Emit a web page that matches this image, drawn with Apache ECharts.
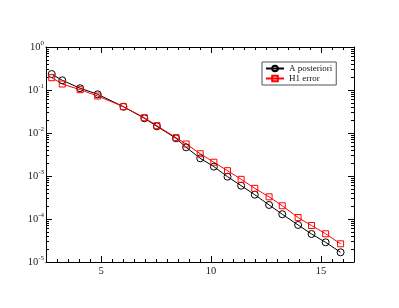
<!DOCTYPE html>
<html>
<head>
<meta charset="utf-8">
<script src="https://cdn.jsdelivr.net/npm/echarts@6/dist/echarts.min.js"></script>
<style>
  html, body { margin: 0; padding: 0; background: #fff; }
  #main { width: 399px; height: 308px; }
</style>
</head>
<body>
<div id="main"></div>
<script>
// x positions of the refinement steps
var xValues = [2.76, 3.24, 4.05, 4.85, 6.02, 6.97, 7.54, 8.41, 8.87, 9.51, 10.13, 10.75, 11.37, 11.99, 12.64, 13.24, 13.96, 14.57, 15.21, 15.89];
// A posteriori estimator
var estValues = [0.235, 0.168, 0.110, 0.0794, 0.0409, 0.0220, 0.0143, 0.00753, 0.00465, 0.00258, 0.00165, 0.000964, 0.000595, 0.000367, 0.000212, 0.000129, 7.25e-5, 4.48e-5, 2.87e-5, 1.68e-5];
// H1 error
var errValues = [0.193, 0.138, 0.1017, 0.0725, 0.0409, 0.0227, 0.0148, 0.00778, 0.00555, 0.00330, 0.00209, 0.00133, 0.000837, 0.000517, 0.000328, 0.000203, 0.000108, 7.06e-5, 4.53e-5, 2.65e-5];

var xMajor = [5, 10, 15];
var yMajor = [1e-5, 1e-4, 1e-3, 1e-2, 1e-1, 1];

// minor ticks: every 0.5 on x, 2..9 inside each decade on y
var xMinor = [];
for (var t = 3; t <= 16; t += 0.5) xMinor.push(t);
var yMinor = [];
for (var e = -5; e < 0; e++) {
  for (var m = 2; m <= 9; m++) yMinor.push(m * Math.pow(10, e));
}

var font = '"Liberation Serif", "DejaVu Serif", serif';
var myChart = echarts.init(document.getElementById('main'));

function pairs (xs, ys) {
  var out = [];
  for (var i = 0; i < xs.length; i++) out.push([xs[i], ys[i]]);
  return out;
}

function xAxisDef (pos, ticks, len, label, line) {
  return {
    type: 'value', position: pos, min: 2.5, max: 16.5,
    axisLine: { show: line, onZero: false, lineStyle: { color: '#000', width: 1 } },
    axisTick: { show: true, inside: true, length: len, customValues: ticks, lineStyle: { color: '#000', width: 1 } },
    axisLabel: { show: label, customValues: ticks, margin: 4, color: '#222', fontFamily: font, fontSize: 10.5 },
    splitLine: { show: false }
  };
}

function yAxisDef (pos, ticks, len, label, line) {
  return {
    type: 'log', logBase: 10, position: pos, min: 1e-5, max: 1,
    axisLine: { show: line, onZero: false, lineStyle: { color: '#000', width: 1 } },
    axisTick: { show: true, inside: true, length: len, customValues: ticks, lineStyle: { color: '#000', width: 1 } },
    axisLabel: {
      show: label, customValues: ticks, margin: 2,
      formatter: function (v) {
        var p = Math.round(Math.log(v) / Math.LN10);
        return '{b|10}{s|' + p + '}';
      },
      rich: {
        b: { fontFamily: font, fontSize: 10.5, color: '#222' },
        s: { fontFamily: font, fontSize: 7, color: '#222', padding: [0, 0, 7, 0] }
      }
    },
    splitLine: { show: false }
  };
}

var option = {
  backgroundColor: '#fff',
  animation: false,
  grid: { left: 46, right: 45, top: 47, bottom: 46, outerBoundsMode: 'none' },
  legend: {
    left: 262, top: 62, orient: 'vertical',
    backgroundColor: '#fff', borderColor: '#555', borderWidth: 1,
    padding: [2, 4, 2, 3], itemGap: 1, itemWidth: 18, itemHeight: 7,
    textStyle: { fontFamily: font, fontSize: 9, color: '#111' },
    data: ['A posteriori', 'H1 error']
  },
  xAxis: [
    xAxisDef('bottom', xMajor, 6, true, true),
    xAxisDef('bottom', xMinor, 3, false, false),
    xAxisDef('top', xMajor, 6, false, true),
    xAxisDef('top', xMinor, 3, false, false)
  ],
  yAxis: [
    yAxisDef('left', yMajor, 6, true, true),
    yAxisDef('left', yMinor, 3, false, false),
    yAxisDef('right', yMajor, 6, false, true),
    yAxisDef('right', yMinor, 3, false, false)
  ],
  series: [
    {
      name: 'A posteriori', type: 'line',
      data: pairs(xValues, estValues),
      symbol: 'circle', symbolSize: 7,
      itemStyle: { color: 'transparent', borderColor: '#000', borderWidth: 1 },
      lineStyle: { color: '#000', width: 1 }
    },
    {
      name: 'H1 error', type: 'line',
      data: pairs(xValues, errValues),
      symbol: 'rect', symbolSize: 6,
      itemStyle: { color: 'transparent', borderColor: '#ff0000', borderWidth: 1 },
      lineStyle: { color: '#ff0000', width: 1 }
    }
  ]
};

myChart.setOption(option);
</script>
</body>
</html>
